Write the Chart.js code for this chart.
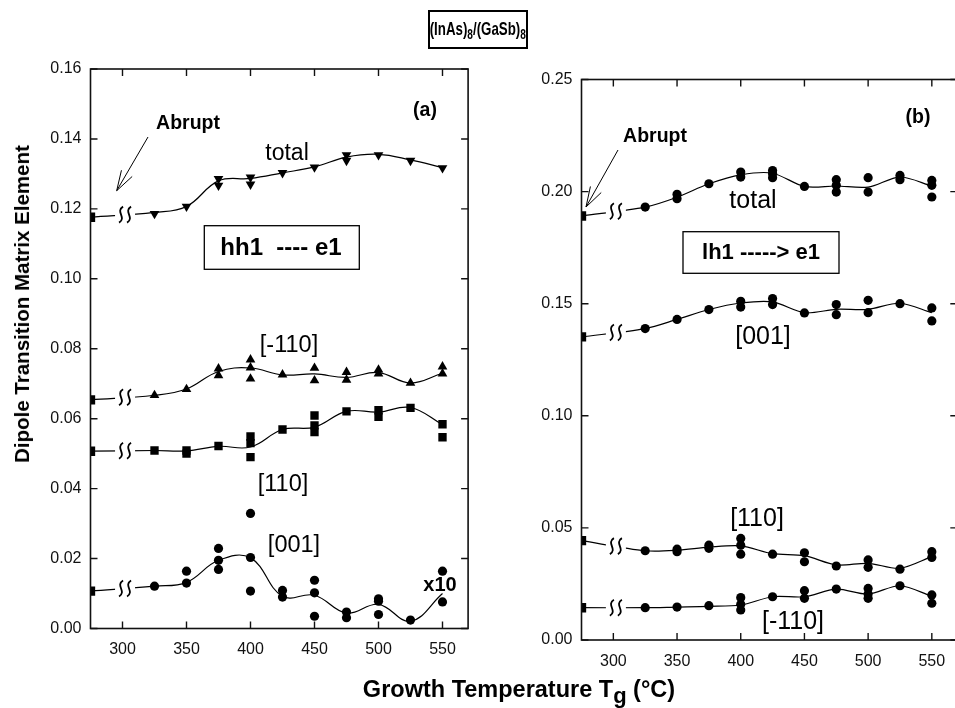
<!DOCTYPE html>
<html><head><meta charset="utf-8">
<script src="https://cdn.jsdelivr.net/npm/chart.js@4.4.0/dist/chart.umd.min.js"></script>
<style>
html,body{margin:0;padding:0;background:#fff;overflow:hidden;width:955px;height:708px;}
#wrap{position:relative;width:955px;height:708px;overflow:hidden;font-family:"Liberation Sans",Arial,Helvetica,sans-serif;color:#000;}
.cv{position:absolute;top:0;height:708px;width:480px;}
#title{position:absolute;left:428px;top:10px;width:96px;height:35px;border:2px solid #000;text-align:center;white-space:nowrap;overflow:visible;}
#title span{display:inline-block;font-weight:bold;font-size:19px;line-height:33px;transform:scaleX(0.7);transform-origin:center;margin:0 -40px;}
#title sub{font-size:14.5px;vertical-align:-4px;line-height:0;}
#xtitle{position:absolute;left:519px;top:689px;transform:translate(-50%,-50%);font-weight:bold;font-size:23.5px;white-space:nowrap;}
#xtitle sub{font-size:22px;vertical-align:-6px;line-height:0;}
#ytitle{position:absolute;left:22px;top:304px;transform:translate(-50%,-50%) rotate(-90deg);font-weight:bold;font-size:20.5px;white-space:nowrap;}
</style></head><body>
<div id="wrap">
<div class="cv" style="left:0px"><canvas id="cA"></canvas></div>
<div class="cv" style="left:490px"><canvas id="cB"></canvas></div>
<div id="title"><span>(InAs)<sub>8</sub>/(GaSb)<sub>8</sub></span></div>
<div id="xtitle">Growth Temperature T<sub>g</sub> (°C)</div>
<div id="ytitle">Dipole Transition Matrix Element</div>
</div>
<script>
// ---------- data ----------
const temps = [325,350,375,400,425,450,475,500,525,550];
const abruptT = 275;
const breakT = 302;
const xTicks = [300,350,400,450,500,550];
const yTicksA = [0,0.02,0.04,0.06,0.08,0.10,0.12,0.14,0.16];
const yTicksB = [0,0.05,0.10,0.15,0.20,0.25];

// Panel (a): hh1 ---- e1
const aAbrupt = {total:0.1176, m110:0.0654, p110:0.0507, p001:0.0107};
const aTotalCurve = [0.1190,0.1207,0.1280,0.1287,0.1303,0.1320,0.1348,0.1356,0.1340,0.1318];
const aTotalPts = [[0.1186],[0.1207],[0.1286,0.1267],[0.1290,0.1270],[0.1303],[0.1319],[0.1354,0.1338],[0.1354],[0.1338],[0.1317]];
const aM110Curve = [0.0667,0.0685,0.0735,0.0745,0.0725,0.0728,0.0718,0.0732,0.0702,0.0730];
const aM110Pts = [[0.0667],[0.0684],[0.0743,0.0724],[0.0769,0.0746,0.0714],[0.0726],[0.0745,0.0709],[0.0733,0.0711],[0.0740,0.0729],[0.0702],[0.0749,0.0729]];
const aP110Curve = [0.0509,0.0508,0.0521,0.0519,0.0569,0.0576,0.0621,0.0619,0.0632,0.0583];
const aP110Pts = [[0.0509],[0.0509,0.0500],[0.0522],[0.0549,0.0530,0.0490],[0.0569],[0.0609,0.0581,0.0562],[0.0621],[0.0624,0.0605],[0.0631],[0.0584,0.0547]];
const aP001Curve = [0.0121,0.0132,0.0195,0.0202,0.0092,0.0095,0.0044,0.0069,0.0021,0.0100];
const aP001Pts = [[0.0121],[0.0164,0.0130],[0.0229,0.0195,0.0169],[0.0329,0.0203,0.0107],[0.0109,0.0090],[0.0138,0.0102,0.0035],[0.0047,0.0031],[0.0085,0.0078,0.0040],[0.0024],[0.0164,0.0076]];

// Panel (b): lh1 -----> e1
const bAbrupt = {total:0.1891, p001:0.1352, p110:0.0443, m110:0.0144};
const bTotalCurve = [0.1931,0.1975,0.2035,0.2075,0.2082,0.2023,0.2025,0.2020,0.2065,0.2025];
const bTotalPts = [[0.1931],[0.1988,0.1968],[0.2035],[0.2087,0.2065],[0.2094,0.2080,0.2062],[0.2023],[0.2053,0.2028,0.1998],[0.2062,0.1998],[0.2072,0.2053],[0.2050,0.2028,0.1976]];
const bP001Curve = [0.1389,0.1430,0.1474,0.1503,0.1508,0.1460,0.1475,0.1475,0.1502,0.1460];
const bP001Pts = [[0.1389],[0.1430],[0.1474],[0.1511,0.1485],[0.1523,0.1496],[0.1459],[0.1496,0.1451],[0.1515,0.1460],[0.1500],[0.1481,0.1423]];
const bP110Curve = [0.0398,0.0400,0.0414,0.0420,0.0385,0.0376,0.0335,0.0342,0.0320,0.0372];
const bP110Pts = [[0.0398],[0.0405,0.0394],[0.0423,0.0409],[0.0453,0.0423,0.0383],[0.0383],[0.0389,0.0349],[0.0330],[0.0357,0.0324],[0.0316],[0.0394,0.0368]];
const bM110Curve = [0.0144,0.0147,0.0150,0.0156,0.0193,0.0193,0.0227,0.0205,0.0242,0.0195];
const bM110Pts = [[0.0144],[0.0147],[0.0153],[0.0189,0.0160,0.0134],[0.0193],[0.0220,0.0186],[0.0227],[0.0230,0.0205,0.0186],[0.0242],[0.0201,0.0164]];

// ---------- helpers ----------
const FAM = '"Liberation Sans", Arial, Helvetica, sans-serif';
function series(abrupt, curve, pts, style, r, rot, tension){
  return [
    {type:'scatter', data:[{x:abruptT,y:abrupt}], pointStyle:'rect', pointRadius:6.6, backgroundColor:'#000', borderWidth:0, order:0},
    {type:'scatter', data:temps.flatMap((t,i)=>pts[i].map(v=>({x:t,y:v}))), pointStyle:style, pointRadius:r, rotation:rot, backgroundColor:'#000', borderWidth:0, order:1},
    {type:'line', data:[{x:abruptT,y:abrupt}].concat(temps.map((t,i)=>({x:t,y:curve[i]}))), borderColor:'#000', borderWidth:1.2, pointRadius:0, tension:tension, fill:false, order:2}
  ];
}
const framePlugin = {
  id:'frame',
  afterDraw(chart){
    const {ctx, chartArea:a, scales:{x,y}} = chart;
    ctx.save(); ctx.strokeStyle='#111'; ctx.lineWidth=1.6;
    ctx.strokeRect(a.left, a.top, a.right-a.left, a.bottom-a.top);
    const L=7; ctx.lineWidth=1.4; ctx.beginPath();
    x.ticks.forEach(t=>{const p=x.getPixelForValue(t.value); ctx.moveTo(p,a.top); ctx.lineTo(p,a.top+L); ctx.moveTo(p,a.bottom); ctx.lineTo(p,a.bottom-L);});
    y.ticks.forEach(t=>{const p=y.getPixelForValue(t.value); ctx.moveTo(a.left,p); ctx.lineTo(a.left+L,p); ctx.moveTo(a.right,p); ctx.lineTo(a.right-L,p);});
    ctx.stroke(); ctx.restore();
  }
};
const notesPlugin = {
  id:'notes',
  afterDraw(chart, args, o){
    const ctx=chart.ctx, xs=chart.scales.x, ys=chart.scales.y;
    ctx.save();
    // break marks
    (o.breaks||[]).forEach(([a0,c1])=>{
      const f=(breakT-abruptT)/(temps[0]-abruptT);
      const v=a0+(c1-a0)*f;
      const px=xs.getPixelForValue(breakT), py=ys.getPixelForValue(v);
      ctx.fillStyle='#fff'; ctx.fillRect(px-10,py-3,20,6);
      ctx.strokeStyle='#000'; ctx.lineWidth=1.8;
      [-4,4].forEach(dx=>{const cx=px+dx; ctx.beginPath(); ctx.moveTo(cx+2,py-8); ctx.bezierCurveTo(cx-6,py-3,cx+6,py+3,cx-2,py+8); ctx.stroke();});
    });
    ctx.fillStyle='#000'; ctx.strokeStyle='#000';
    (o.boxes||[]).forEach(b=>{ctx.lineWidth=1.3; ctx.strokeRect(b[0],b[1],b[2]-b[0],b[3]-b[1]);});
    ctx.textAlign='center'; ctx.textBaseline='middle';
    (o.texts||[]).forEach(t=>{ctx.font=t.f+' '+FAM; ctx.fillText(t.s,t.x,t.y);});
    (o.arrows||[]).forEach(([x0,y0,x1,y1])=>{
      ctx.lineWidth=1; ctx.beginPath(); ctx.moveTo(x0,y0); ctx.lineTo(x1,y1);
      const ang=Math.atan2(y0-y1,x0-x1), hl=21, sp=0.3;
      ctx.moveTo(x1,y1); ctx.lineTo(x1+hl*Math.cos(ang-sp), y1+hl*Math.sin(ang-sp));
      ctx.moveTo(x1,y1); ctx.lineTo(x1+hl*Math.cos(ang+sp), y1+hl*Math.sin(ang+sp));
      ctx.stroke();
    });
    ctx.restore();
  }
};
function makeChart(id, datasets, yMax, yTicks, dims, notes){
  return new Chart(document.getElementById(id), {
    data:{datasets},
    options:{
      responsive:true, maintainAspectRatio:false, animation:false, devicePixelRatio:1,
      layout:{padding:{left:0, top:dims.top, right:dims.right, bottom:0}},
      plugins:{legend:{display:false}, tooltip:{enabled:false}, notes},
      scales:{
        x:{type:'linear', min:275, max:570, grid:{display:false, drawTicks:false}, border:{display:false},
           ticks:{font:{size:16, family:FAM}, color:'#111', padding:dims.xpad, maxRotation:0, autoSkip:false},
           afterBuildTicks:s=>{s.ticks=xTicks.map(v=>({value:v}));},
           afterFit:s=>{s.height=dims.xh;}},
        y:{type:'linear', min:0, max:yMax, grid:{display:false, drawTicks:false}, border:{display:false},
           ticks:{font:{size:16, family:FAM}, color:'#111', padding:9, callback:v=>Number(v).toFixed(2), autoSkip:false},
           afterBuildTicks:s=>{s.ticks=yTicks.map(v=>({value:v}));},
           afterFit:s=>{s.width=dims.yw;}}
      }
    },
    plugins:[framePlugin, notesPlugin]
  });
}

// ---------- panel (a) ----------
makeChart('cA', [
  ...series(aAbrupt.total, aTotalCurve, aTotalPts, 'triangle', 5.6, 180, 0.4),
  ...series(aAbrupt.m110, aM110Curve, aM110Pts, 'triangle', 5.6, 0, 0.4),
  ...series(aAbrupt.p110, aP110Curve, aP110Pts, 'rect', 5.9, 0, 0.4),
  ...series(aAbrupt.p001, aP001Curve, aP001Pts, 'circle', 4.6, 0, 0.4)
], 0.16, yTicksA, {top:69, right:11.9, xh:79.5, yw:90.5, xpad:11}, {
  breaks:[[aAbrupt.total,aTotalCurve[0]],[aAbrupt.m110,aM110Curve[0]],[aAbrupt.p110,aP110Curve[0]],[aAbrupt.p001,aP001Curve[0]]],
  boxes:[[204.3,225.7,359.3,269.3]],
  texts:[
    {s:'Abrupt', f:'bold 19.5px', x:188, y:124},
    {s:'(a)', f:'bold 19.5px', x:425, y:111},
    {s:'total', f:'23px', x:287, y:154},
    {s:'hh1  ---- e1', f:'bold 24px', x:281, y:248},
    {s:'[-110]', f:'23.5px', x:289, y:346},
    {s:'[110]', f:'23.5px', x:283, y:485},
    {s:'[001]', f:'23.5px', x:294, y:546},
    {s:'x10', f:'bold 20px', x:440, y:585}
  ],
  arrows:[[148,137,116.7,190.7]]
});

// ---------- panel (b) ----------
makeChart('cB', [
  ...series(bAbrupt.total, bTotalCurve, bTotalPts, 'circle', 4.6, 0, 0.3),
  ...series(bAbrupt.p001, bP001Curve, bP001Pts, 'circle', 4.6, 0, 0.3),
  ...series(bAbrupt.p110, bP110Curve, bP110Pts, 'circle', 4.6, 0, 0.3),
  ...series(bAbrupt.m110, bM110Curve, bM110Pts, 'circle', 4.6, 0, 0.3)
], 0.25, yTicksB, {top:79.5, right:12.7, xh:68, yw:91.5, xpad:12}, {
  breaks:[[bAbrupt.total,bTotalCurve[0]],[bAbrupt.p001,bP001Curve[0]],[bAbrupt.p110,bP110Curve[0]],[bAbrupt.m110,bM110Curve[0]]],
  boxes:[[193,231.7,349,273.3]],
  texts:[
    {s:'Abrupt', f:'bold 19.5px', x:165, y:137},
    {s:'(b)', f:'bold 19.5px', x:428, y:118},
    {s:'total', f:'25px', x:263, y:201},
    {s:'lh1 -----> e1', f:'bold 22px', x:271, y:253},
    {s:'[001]', f:'25px', x:273, y:337},
    {s:'[110]', f:'25px', x:267, y:519},
    {s:'[-110]', f:'25px', x:303, y:622}
  ],
  arrows:[[128,150,96,207]]
});
</script>
</body></html>
